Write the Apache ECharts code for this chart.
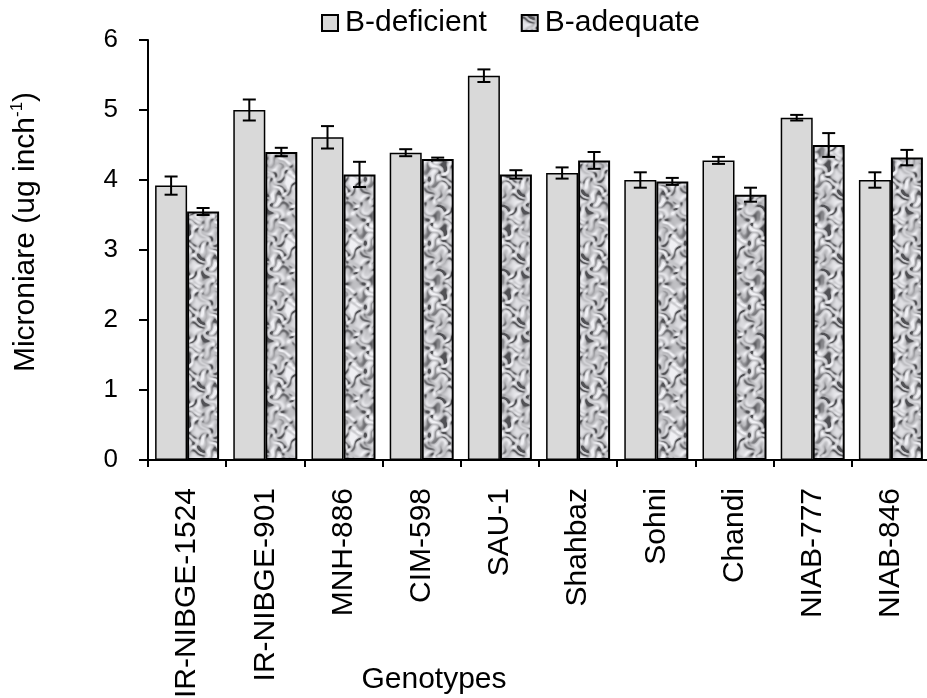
<!DOCTYPE html>
<html>
<head>
<meta charset="utf-8">
<script src="https://cdn.jsdelivr.net/npm/echarts@6/dist/echarts.min.js"></script>
<style>html,body{margin:0;padding:0;background:#fff}#c{width:927px;height:698px}</style>
</head>
<body>
<div id="c"></div>
<script>
const categories = ['IR-NIBGE-1524','IR-NIBGE-901','MNH-886','CIM-598','SAU-1','Shahbaz','Sohni','Chandi','NIAB-777','NIAB-846'];
const deficient = [3.92, 5.00, 4.61, 4.39, 5.49, 4.10, 4.00, 4.28, 4.89, 4.00];
const deficientErr = [0.13, 0.15, 0.16, 0.05, 0.09, 0.08, 0.11, 0.05, 0.04, 0.11];
const adequate = [3.55, 4.40, 4.08, 4.30, 4.08, 4.28, 3.98, 3.79, 4.50, 4.32];
const adequateErr = [0.05, 0.06, 0.18, 0.02, 0.06, 0.12, 0.05, 0.10, 0.17, 0.11];
const yTicks = [0, 1, 2, 3, 4, 5, 6];

// deterministic mottled (marble-like) texture built from tiled sine waves
function makeTexture() {
  const S = 64;
  const cv = document.createElement('canvas');
  cv.width = S; cv.height = S;
  const ctx = cv.getContext('2d');
  const img = ctx.createImageData(S, S);
  const waves = [
    [5, 2, 0.3, 1.0], [2, -6, 1.9, 1.0], [6, 3, 4.1, 0.9], [-3, 7, 2.7, 0.9],
    [7, -1, 5.3, 0.8], [4, 5, 0.9, 0.8], [8, -4, 3.3, 0.6], [1, 8, 5.9, 0.6],
    [5, -7, 1.4, 0.5], [-6, 4, 4.6, 0.5], [3, 3, 2.2, 0.4], [9, 2, 0.7, 0.4]
  ];
  const T = 2 * Math.PI / S;
  for (let y = 0; y < S; y++) {
    for (let x = 0; x < S; x++) {
      const wx = x + 2.5 * Math.sin(T * (3 * y + 2 * x) + 0.5) + 1.5 * Math.sin(T * (5 * y - x) + 2.1);
      const wy = y + 2.5 * Math.sin(T * (3 * x - 2 * y) + 1.7) + 1.5 * Math.sin(T * (4 * x + 3 * y) + 0.2);
      let v = 0, n = 0;
      for (const [m, k, p, a] of waves) {
        v += a * Math.sin(T * (m * wx + k * wy) + p);
        n += a;
      }
      v = v / n * 2.6;
      if (v > 1) v = 1; if (v < -1) v = -1;
      let g;
      if (v < -0.2) g = 185 + (v + 0.2) * 130;
      else g = 185 + (v + 0.2) * 45;
      g = Math.max(80, Math.min(240, Math.round(g)));
      const i = (y * S + x) * 4;
      img.data[i] = g; img.data[i + 1] = g; img.data[i + 2] = Math.min(255, g + 4); img.data[i + 3] = 255;
    }
  }
  ctx.putImageData(img, 0, 0);
  return cv;
}
const texture = makeTexture();

const FONT = 'Liberation Sans, Arial, sans-serif';
const BAR_W = 32;

function errSeries(name, values, errs, offset) {
  return {
    name: name,
    type: 'custom',
    z: 10,
    silent: true,
    data: values.map((v, i) => [i, v, errs[i]]),
    encode: { x: 0, y: 1 },
    renderItem: function (params, api) {
      const i = api.value(0), v = api.value(1), e = api.value(2);
      const top = api.coord([i, v + e]);
      const bot = api.coord([i, v - e]);
      const x = top[0] + offset;
      const cap = 6.5;
      const st = { stroke: '#000', lineWidth: 2 };
      return {
        type: 'group',
        children: [
          { type: 'line', shape: { x1: x, y1: top[1], x2: x, y2: bot[1] }, style: st },
          { type: 'line', shape: { x1: x - cap, y1: top[1], x2: x + cap, y2: top[1] }, style: st },
          { type: 'line', shape: { x1: x - cap, y1: bot[1], x2: x + cap, y2: bot[1] }, style: st }
        ]
      };
    }
  };
}

const chart = echarts.init(document.getElementById('c'), null, { renderer: 'canvas' });
chart.setOption({
  backgroundColor: '#fff',
  animation: false,
  textStyle: { fontFamily: FONT, color: '#000' },
  legend: {
    data: ['B-deficient', 'B-adequate'],
    top: 3,
    left: 316,
    itemWidth: 16,
    itemHeight: 16,
    itemGap: 34,
    textStyle: { fontSize: 30, fontFamily: FONT, color: '#000', padding: [0, 0, 0, 2] },
    icon: 'rect'
  },
  grid: { left: 148, top: 40, width: 782, height: 420, containLabel: false, outerBoundsMode: 'none' },
  xAxis: {
    type: 'category',
    data: categories,
    boundaryGap: true,
    name: 'Genotypes',
    nameLocation: 'middle',
    nameGap: 205,
    nameMoveOverlap: false,
    nameTextStyle: { fontSize: 30, fontFamily: FONT, color: '#000', padding: [0, 210, 0, 0] },
    axisLine: { show: true, lineStyle: { color: '#000', width: 2 } },
    axisTick: { show: true, length: 7, lineStyle: { color: '#000', width: 2 } },
    axisLabel: { rotate: 90, margin: 28, fontSize: 30, fontFamily: FONT, color: '#000', interval: 0 },
    splitLine: { show: false }
  },
  yAxis: {
    type: 'value',
    min: yTicks[0],
    max: yTicks[yTicks.length - 1],
    interval: 1,
    name: 'Microniare (ug inch{sup|-1})',
    nameLocation: 'middle',
    nameGap: 106,
    nameRotate: 90,
    nameMoveOverlap: false,
    nameTextStyle: {
      fontSize: 30, fontFamily: FONT, color: '#000', padding: [0, 0, 0, 36],
      rich: { sup: { fontSize: 17, fontFamily: FONT, color: '#000', verticalAlign: 'top', lineHeight: 33 } }
    },
    axisLine: { show: true, lineStyle: { color: '#000', width: 2 } },
    axisTick: { show: true, length: 9, lineStyle: { color: '#000', width: 2 } },
    axisLabel: { margin: 30, fontSize: 26, fontFamily: FONT, color: '#000' },
    splitLine: { show: false }
  },
  series: [
    {
      name: 'B-deficient',
      type: 'bar',
      data: deficient,
      barWidth: BAR_W,
      barGap: '0%',
      itemStyle: { color: '#d9d9d9', borderColor: '#000', borderWidth: 1.5 }
    },
    {
      name: 'B-adequate',
      type: 'bar',
      data: adequate,
      barWidth: BAR_W,
      barGap: '0%',
      itemStyle: { color: { image: texture, repeat: 'repeat' }, borderColor: '#000', borderWidth: 2 }
    },
    errSeries('errDef', deficient, deficientErr, -BAR_W / 2),
    errSeries('errAdq', adequate, adequateErr, BAR_W / 2)
  ]
});
</script>
</body>
</html>
